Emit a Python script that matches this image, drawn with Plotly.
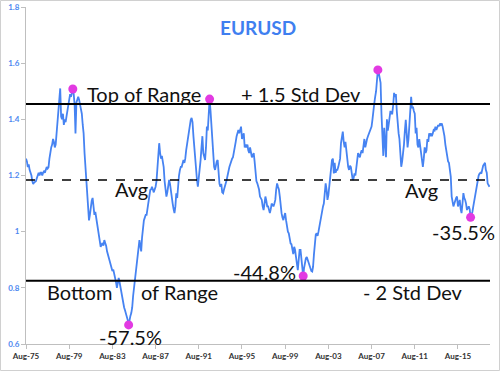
import plotly.graph_objects as go
import pandas as pd

# ---- data (monthly EURUSD, Aug-1975 .. Jul-2018) ----
START = "1975-08-01"
v1975 = [1.26, 1.25, 1.23, 1.24, 1.22]
v1976 = [1.21, 1.20, 1.18, 1.17, 1.175, 1.18, 1.18, 1.19, 1.20, 1.21, 1.20, 1.21]
v1977 = [1.21, 1.20, 1.21, 1.215, 1.21, 1.22, 1.23, 1.225, 1.23, 1.26, 1.29, 1.30]
v1978 = [1.31, 1.33, 1.32, 1.30, 1.31, 1.35, 1.37, 1.40, 1.44, 1.51, 1.41, 1.40]
v1979 = [1.42, 1.38, 1.40, 1.39, 1.41, 1.43, 1.445, 1.46, 1.49, 1.48, 1.50, 1.508]
v1980 = [1.49, 1.45, 1.35, 1.46, 1.47, 1.48, 1.47, 1.45, 1.44, 1.42, 1.38, 1.35]
v1981 = [1.28, 1.23, 1.22, 1.17, 1.10, 1.04, 1.06, 1.09, 1.11, 1.12, 1.08, 1.06]
v1982 = [1.07, 1.05, 1.03, 1.02, 1.00, 0.97, 0.946, 0.955, 0.96, 0.95, 0.97, 0.96]
v1983 = [0.95, 0.93, 0.92, 0.91, 0.90, 0.88, 0.875, 0.86, 0.865, 0.85, 0.845, 0.82]
v1984 = [0.80, 0.83, 0.835, 0.82, 0.80, 0.78, 0.77, 0.75, 0.73, 0.72, 0.71, 0.70]
v1985 = [0.685, 0.668, 0.69, 0.70, 0.71, 0.73, 0.77, 0.80, 0.84, 0.87, 0.90, 0.92]
v1986 = [0.95, 0.97, 0.95, 0.93, 0.98, 1.018, 1.04, 1.05, 1.06, 1.06, 1.08, 1.10]
v1987 = [1.13, 1.148, 1.15, 1.16, 1.15, 1.14, 1.15, 1.16, 1.18, 1.231, 1.28, 1.315]
v1988 = [1.28, 1.26, 1.27, 1.25, 1.23, 1.18, 1.137, 1.125, 1.14, 1.16, 1.184, 1.17]
v1989 = [1.14, 1.113, 1.10, 1.08, 1.066, 1.09, 1.137, 1.12, 1.17, 1.20, 1.22, 1.231]
v1990 = [1.231, 1.245, 1.255, 1.245, 1.26, 1.29, 1.315, 1.34, 1.35, 1.38, 1.398, 1.405]
v1991 = [1.39, 1.34, 1.30, 1.255, 1.21, 1.184, 1.16, 1.19, 1.21, 1.255, 1.30, 1.34]
v1992 = [1.28, 1.265, 1.255, 1.30, 1.374, 1.36, 1.40, 1.472, 1.43, 1.374, 1.31, 1.255]
v1993 = [1.231, 1.22, 1.24, 1.25, 1.255, 1.20, 1.17, 1.16, 1.17, 1.14, 1.137, 1.15]
v1994 = [1.16, 1.17, 1.184, 1.20, 1.22, 1.23, 1.24, 1.255, 1.26, 1.265, 1.28, 1.302]
v1995 = [1.32, 1.34, 1.355, 1.362, 1.35, 1.36, 1.374, 1.33, 1.34, 1.35, 1.30, 1.31]
v1996 = [1.30, 1.31, 1.29, 1.28, 1.30, 1.28, 1.265, 1.27, 1.28, 1.25, 1.196, 1.18]
v1997 = [1.172, 1.16, 1.15, 1.125, 1.12, 1.113, 1.09, 1.077, 1.10, 1.125, 1.11, 1.09]
v1998 = [1.09, 1.075, 1.066, 1.08, 1.10, 1.095, 1.09, 1.10, 1.113, 1.15, 1.172, 1.16]
v1999 = [1.15, 1.125, 1.09, 1.066, 1.05, 1.041, 1.055, 1.066, 1.04, 1.018, 1.00, 0.994]
v2000 = [0.97, 0.958, 0.955, 0.935, 0.92, 0.946, 0.935, 0.91, 0.88, 0.863, 0.90, 0.935]
v2001 = [0.935, 0.90, 0.87, 0.842, 0.87, 0.90, 0.905, 0.91, 0.90, 0.887, 0.875, 0.87]
v2002 = [0.86, 0.858, 0.875, 0.92, 0.97, 0.99, 0.994, 0.985, 1.00, 1.018, 1.04, 1.066]
v2003 = [1.08, 1.09, 1.10, 1.137, 1.172, 1.15, 1.113, 1.13, 1.16, 1.19, 1.22, 1.255]
v2004 = [1.26, 1.207, 1.245, 1.21, 1.22, 1.22, 1.23, 1.255, 1.26, 1.315, 1.33, 1.356]
v2005 = [1.32, 1.30, 1.32, 1.28, 1.26, 1.231, 1.22, 1.235, 1.23, 1.21, 1.184, 1.19]
v2006 = [1.207, 1.20, 1.23, 1.25, 1.28, 1.27, 1.265, 1.28, 1.29, 1.28, 1.30, 1.33]
v2007 = [1.30, 1.32, 1.33, 1.34, 1.35, 1.362, 1.37, 1.374, 1.40, 1.42, 1.457, 1.48]
v2008 = [1.50, 1.54, 1.576, 1.565, 1.55, 1.53, 1.42, 1.36, 1.27, 1.37, 1.30, 1.265]
v2009 = [1.40, 1.36, 1.38, 1.41, 1.43, 1.42, 1.42, 1.45, 1.494, 1.48, 1.49, 1.43]
v2010 = [1.374, 1.35, 1.33, 1.28, 1.231, 1.25, 1.30, 1.31, 1.36, 1.398, 1.35, 1.30]
v2011 = [1.33, 1.374, 1.42, 1.48, 1.44, 1.445, 1.43, 1.42, 1.35, 1.37, 1.31, 1.30]
v2012 = [1.33, 1.30, 1.28, 1.25, 1.231, 1.26, 1.30, 1.28, 1.29, 1.33, 1.32, 1.35]
v2013 = [1.34, 1.35, 1.34, 1.35, 1.362, 1.36, 1.374, 1.362, 1.37, 1.38, 1.375, 1.385]
v2014 = [1.38, 1.385, 1.374, 1.36, 1.34, 1.31, 1.29, 1.255, 1.25, 1.245, 1.22, 1.196]
v2015 = [1.125, 1.11, 1.09, 1.10, 1.113, 1.12, 1.125, 1.09, 1.10, 1.113, 1.08, 1.066]
v2016 = [1.10, 1.137, 1.12, 1.113, 1.10, 1.077, 1.085, 1.09, 1.08, 1.051, 1.06, 1.07]
v2017 = [1.09, 1.11, 1.13, 1.148, 1.17, 1.184, 1.20, 1.207, 1.21, 1.207, 1.231, 1.235]
v2018 = [1.24, 1.245, 1.22, 1.21, 1.172, 1.165, 1.16]

yearly = [v1975, v1976, v1977, v1978, v1979, v1980, v1981, v1982, v1983, v1984,
          v1985, v1986, v1987, v1988, v1989, v1990, v1991, v1992, v1993, v1994,
          v1995, v1996, v1997, v1998, v1999, v2000, v2001, v2002, v2003, v2004,
          v2005, v2006, v2007, v2008, v2009, v2010, v2011, v2012, v2013, v2014,
          v2015, v2016, v2017, v2018]
eurusd = [v for yr in yearly for v in yr]
dates = pd.date_range(START, periods=len(eurusd), freq="MS")
series = pd.Series(eurusd, index=dates)

# highlighted turning points (months)
highlight_months = ["1979-12-01", "1985-02-01", "1992-08-01", "2001-04-01",
                    "2008-03-01", "2016-10-01"]

# reference levels
top_of_range = 1.455
average_level = 1.184
bottom_of_range = 0.825

tick_dates = ["1975-08-01", "1979-08-01", "1983-08-01", "1987-08-01", "1991-08-01",
              "1995-08-01", "1999-08-01", "2003-08-01", "2007-08-01", "2011-08-01",
              "2015-08-01"]
tick_labels = ["Aug-75", "Aug-79", "Aug-83", "Aug-87", "Aug-91", "Aug-95",
               "Aug-99", "Aug-03", "Aug-07", "Aug-11", "Aug-15"]

# ---- figure ----
W, H = 500, 371
L, R, T, B = 26, 10, 7, 27
PW, PH = W - L - R, H - T - B

def px(x):
    return (x - L) / PW

def py(y):
    return (H - B - y) / PH

LINE = "#4683F2"
fig = go.Figure()
fig.add_trace(go.Scatter(x=series.index, y=series.values, mode="lines",
                         line=dict(color=LINE, width=1.8), hoverinfo="skip"))
hl = pd.to_datetime(highlight_months)
fig.add_trace(go.Scatter(x=hl, y=series.loc[hl].values, mode="markers",
                         marker=dict(color="#E23AE2", size=9), hoverinfo="skip"))

fig.add_hline(y=top_of_range, line=dict(color="black", width=2))
fig.add_hline(y=bottom_of_range, line=dict(color="black", width=2))
fig.add_hline(y=average_level, line=dict(color="black", width=1.5, dash="dash"))

FONT = "Lato"
labels = [
    ("Top of Range", 143.5, 94),
    ("+ 1.5 Std Dev", 301, 94),
    ("Avg", 131, 189),
    ("Avg", 421.5, 190),
    ("Bottom", 79.5, 292),
    ("of Range", 179, 292),
    ("-57.5%", 130, 337),
    ("-44.8%", 264.5, 272),
    ("- 2 Std Dev", 412.5, 292),
    ("-35.5%", 463.5, 232),
]
for text, cx, cy in labels:
    fig.add_annotation(text=text, x=px(cx), y=py(cy), xref="paper", yref="paper",
                       showarrow=False, xanchor="center", yanchor="middle",
                       font=dict(family=FONT, size=20, color="#111111"))

fig.add_annotation(text="<b>EURUSD</b>", x=px(258), y=py(27), xref="paper", yref="paper",
                   showarrow=False, xanchor="center", yanchor="middle",
                   font=dict(family=FONT, size=19, color="#3F7FF0"))

# outer border
fig.add_shape(type="rect", xref="paper", yref="paper",
              x0=px(0.5), x1=px(W - 0.5), y0=py(H - 0.5), y1=py(0.5),
              line=dict(color="#d0d0d0", width=1))

fig.update_layout(
    width=W, height=H, margin=dict(l=L, r=R, t=T, b=B, pad=0, autoexpand=False),
    paper_bgcolor="white", plot_bgcolor="white", showlegend=False,
    hovermode=False,
    xaxis=dict(type="date", range=["1975-08-01", "2018-07-20"],
               tickvals=tick_dates, ticktext=tick_labels,
               showgrid=False, zeroline=False, showline=True,
               linecolor="#bfbfbf", linewidth=1, ticks="outside", ticklen=4,
               tickcolor="#bfbfbf",
               tickfont=dict(family=FONT, size=8, color="#333333", weight="bold")),
    yaxis=dict(range=[0.6, 1.8], tickvals=[0.6, 0.8, 1.0, 1.2, 1.4, 1.6, 1.8],
               ticktext=["0.6", "0.8", "1", "1.2", "1.4", "1.6", "1.8"],
               showgrid=False, zeroline=False, showline=True,
               linecolor="#bfbfbf", linewidth=1, ticks="outside", ticklen=4,
               tickcolor="#bfbfbf",
               tickfont=dict(family=FONT, size=8, color="#4D87F0", weight="bold")),
)

fig.write_html("out.html", config={"displayModeBar": False, "staticPlot": True},
               post_script="document.body.style.margin='0';")
